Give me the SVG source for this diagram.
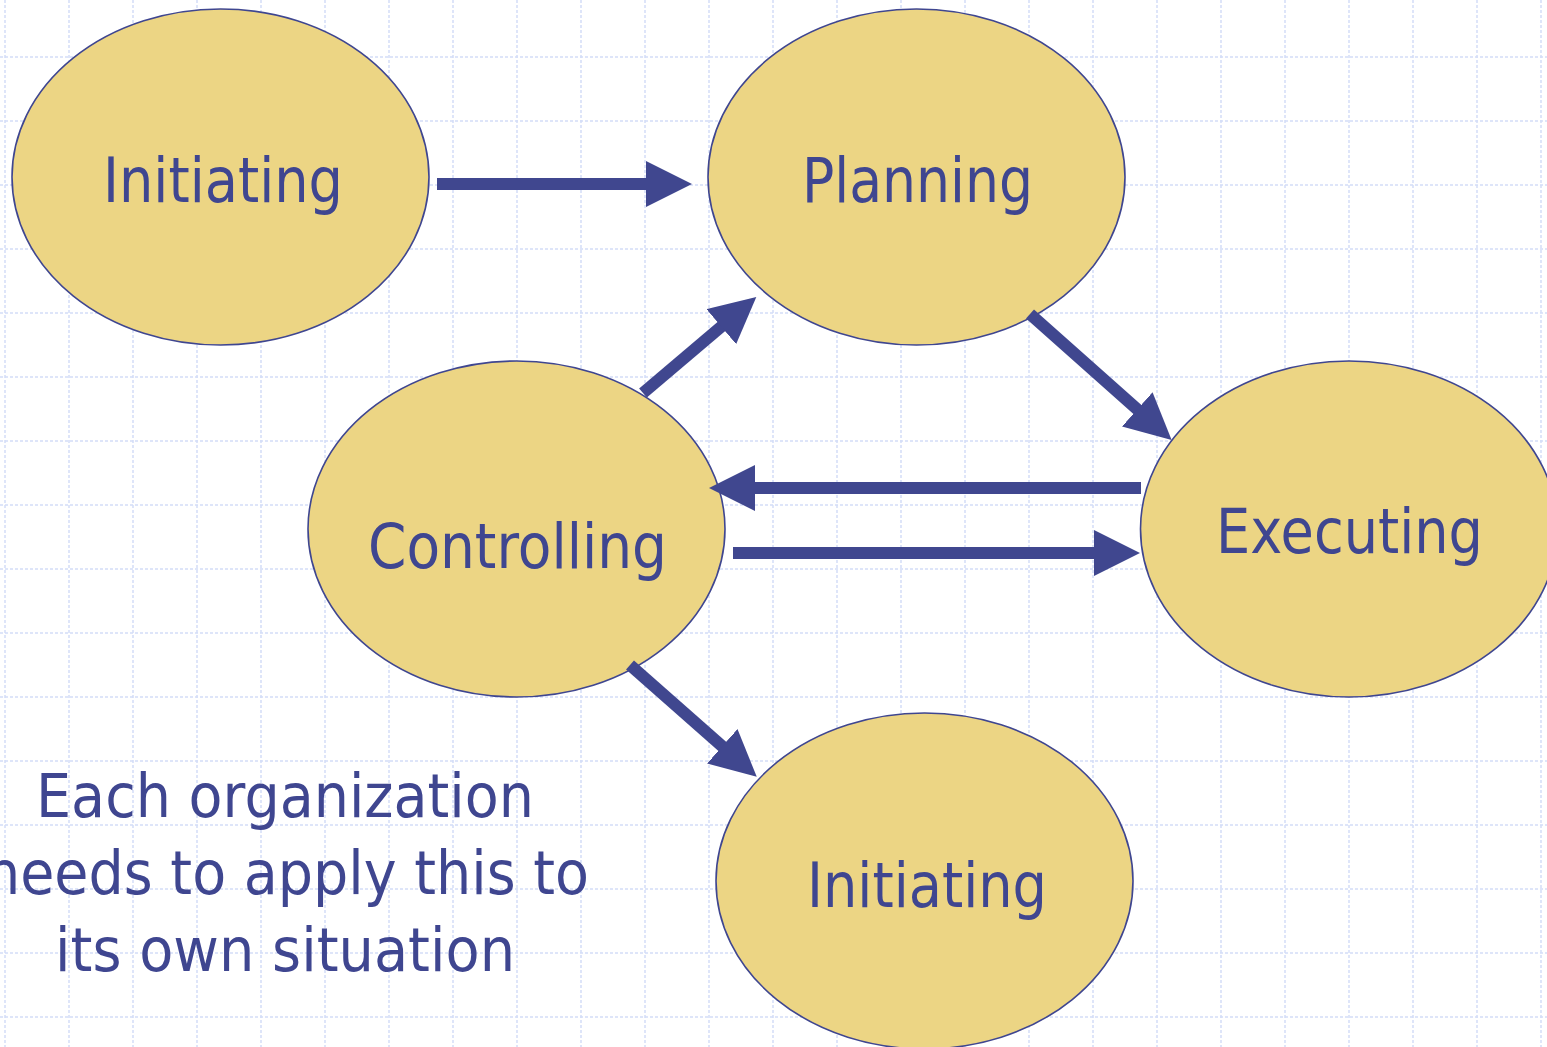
<svg xmlns="http://www.w3.org/2000/svg" width="1547" height="1047" viewBox="0 0 1547 1047">
<style>
.grid line{stroke:#d3ddf8;stroke-width:1.5;stroke-dasharray:3 2}
.node ellipse{fill:#ecd584;stroke:#3f4690;stroke-width:1.6}
.lbl{font-family:"DejaVu Sans","Liberation Sans",sans-serif;font-size:63px;fill:#3f4690;text-anchor:middle}
.para{font-family:"DejaVu Sans","Liberation Sans",sans-serif;font-size:60px;fill:#3f4690;text-anchor:middle}
.conn path{fill:none;stroke:#40478f;stroke-width:12;marker-end:url(#ah)}
</style>
<defs>
<marker id="ah" markerUnits="userSpaceOnUse" markerWidth="46" markerHeight="46" viewBox="0 0 46 46" refX="1" refY="23" orient="auto">
<path d="M0,0 L46,23 L0,46 Z" fill="#40478f"/>
</marker>
</defs>
<rect width="1547" height="1047" fill="#ffffff"/>
<g class="grid">
<line x1="5" y1="0" x2="5" y2="1047"/><line x1="69" y1="0" x2="69" y2="1047"/><line x1="133" y1="0" x2="133" y2="1047"/><line x1="197" y1="0" x2="197" y2="1047"/><line x1="261" y1="0" x2="261" y2="1047"/><line x1="325" y1="0" x2="325" y2="1047"/><line x1="389" y1="0" x2="389" y2="1047"/><line x1="453" y1="0" x2="453" y2="1047"/><line x1="517" y1="0" x2="517" y2="1047"/><line x1="581" y1="0" x2="581" y2="1047"/><line x1="645" y1="0" x2="645" y2="1047"/><line x1="709" y1="0" x2="709" y2="1047"/><line x1="773" y1="0" x2="773" y2="1047"/><line x1="837" y1="0" x2="837" y2="1047"/><line x1="901" y1="0" x2="901" y2="1047"/><line x1="965" y1="0" x2="965" y2="1047"/><line x1="1029" y1="0" x2="1029" y2="1047"/><line x1="1093" y1="0" x2="1093" y2="1047"/><line x1="1157" y1="0" x2="1157" y2="1047"/><line x1="1221" y1="0" x2="1221" y2="1047"/><line x1="1285" y1="0" x2="1285" y2="1047"/><line x1="1349" y1="0" x2="1349" y2="1047"/><line x1="1413" y1="0" x2="1413" y2="1047"/><line x1="1477" y1="0" x2="1477" y2="1047"/><line x1="1541" y1="0" x2="1541" y2="1047"/>
<line x1="0" y1="57" x2="1547" y2="57"/><line x1="0" y1="121" x2="1547" y2="121"/><line x1="0" y1="185" x2="1547" y2="185"/><line x1="0" y1="249" x2="1547" y2="249"/><line x1="0" y1="313" x2="1547" y2="313"/><line x1="0" y1="377" x2="1547" y2="377"/><line x1="0" y1="441" x2="1547" y2="441"/><line x1="0" y1="505" x2="1547" y2="505"/><line x1="0" y1="569" x2="1547" y2="569"/><line x1="0" y1="633" x2="1547" y2="633"/><line x1="0" y1="697" x2="1547" y2="697"/><line x1="0" y1="761" x2="1547" y2="761"/><line x1="0" y1="825" x2="1547" y2="825"/><line x1="0" y1="889" x2="1547" y2="889"/><line x1="0" y1="953" x2="1547" y2="953"/><line x1="0" y1="1017" x2="1547" y2="1017"/>
</g>
<g id="initiating-top" class="node">
<ellipse cx="220.5" cy="177" rx="208.5" ry="168"/>
<text class="lbl" x="223" y="202" textLength="240" lengthAdjust="spacingAndGlyphs">Initiating</text>
</g>
<g id="planning" class="node">
<ellipse cx="916.5" cy="177" rx="208.5" ry="168"/>
<text class="lbl" x="917.5" y="202" textLength="231" lengthAdjust="spacingAndGlyphs">Planning</text>
</g>
<g id="controlling" class="node">
<ellipse cx="516.5" cy="529" rx="208.5" ry="168"/>
<text class="lbl" x="517.5" y="568" textLength="299" lengthAdjust="spacingAndGlyphs">Controlling</text>
</g>
<g id="executing" class="node">
<ellipse cx="1349" cy="529" rx="208.5" ry="168"/>
<text class="lbl" x="1349.5" y="553" textLength="267" lengthAdjust="spacingAndGlyphs">Executing</text>
</g>
<g id="initiating-bottom" class="node">
<ellipse cx="924.5" cy="881" rx="208.5" ry="168"/>
<text class="lbl" x="927" y="907" textLength="240" lengthAdjust="spacingAndGlyphs">Initiating</text>
</g>
<g id="connectors" class="conn">
<path d="M437,184 L647,184"/>
<path d="M643,393 L722,326"/>
<path d="M1030,314 L1138,410"/>
<path d="M1141,488 L754,488"/>
<path d="M733,553 L1095,553"/>
<path d="M630,665 L723,747"/>
</g>
<g id="note">
<text class="para" x="285" y="817" textLength="498" lengthAdjust="spacingAndGlyphs">Each organization</text>
<text class="para" x="287" y="894" textLength="604" lengthAdjust="spacingAndGlyphs">needs to apply this to</text>
<text class="para" x="285" y="971" textLength="460" lengthAdjust="spacingAndGlyphs">its own situation</text>
</g>
</svg>
